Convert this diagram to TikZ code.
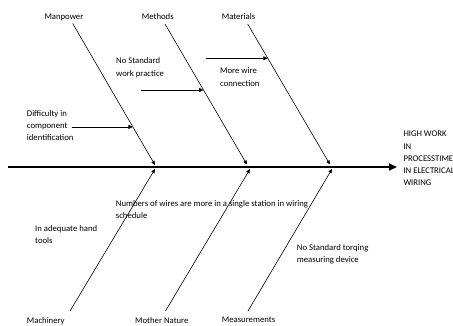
\documentclass[tikz,border=0pt]{standalone}
\usepackage{fontspec}
\setmainfont{Carlito}
\usetikzlibrary{arrows.meta}

\begin{document}
\begin{tikzpicture}[x=1pt,y=-1pt,
        font=\fontsize{8.7}{12.3}\selectfont,
        every node/.style={inner sep=0pt,anchor=base west,align=left},
        spine/.style={line width=1.8pt,-{Triangle[length=8pt,width=7pt]}},
        bone/.style={line width=0.6pt,-{Triangle[length=4pt,width=3.5pt]}},
        cause/.style={line width=0.8pt,-{Triangle[length=4.5pt,width=4pt]}}]

    \useasboundingbox (0,0) rectangle (453,325);

    \coordinate (tail) at (8,167);
    \coordinate (head) at (397,167);
    \draw[spine] (tail) -- (head);

    \node (effect)    at (403.3,185.9) {HIGH WORK\\IN\\PROCESSTIME\\IN ELECTRICAL\\WIRING};

    \node (manpower)  at (44.3,19.4)  {Manpower};
    \node (methods)   at (141.7,19.4) {Methods};
    \node (materials) at (221.7,19.4) {Materials};
    \node (machinery) at (26.7,323.4) {Machinery};
    \node (nature)    at (135,323.4)  {Mother Nature};
    \node (measure)   at (221.7,322)  {Measurements};

    \coordinate (manpowertop)  at (72.7,23.5);
    \coordinate (manpowerend)  at (155,165);
    \coordinate (methodstop)   at (165,24);
    \coordinate (methodsend)   at (247,164.5);
    \coordinate (materialstop) at (247.7,24);
    \coordinate (materialsend) at (330,164.5);
    \coordinate (machinerybot) at (70,311);
    \coordinate (machineryend) at (155,169);
    \coordinate (naturebot)    at (165.5,311);
    \coordinate (natureend)    at (250,169);
    \coordinate (measurebot)   at (248,311);
    \coordinate (measureend)   at (332,169);

    \draw[bone] (manpowertop) -- coordinate[pos=0.731] (manpowerhit) (manpowerend);
    \draw[bone] (methodstop) -- coordinate[pos=0.470] (methodshit) (methodsend);
    \draw[bone] (materialstop) -- coordinate[pos=0.244] (materialshit) (materialsend);
    \draw[bone] (machinerybot) -- (machineryend);
    \draw[bone] (naturebot) -- (natureend);
    \draw[bone] (measurebot) -- (measureend);

    \node (difficulty) at (26.7,140.6) {Difficulty in\\component\\identification};
    \node (practice)   at (116,76) {No Standard\\work practice};
    \node (wire)       at (220,86) {More wire\\connection};
    \node (numbers)    at (115.7,218.3) {Numbers of wires are more in a single station in wiring\\schedule};
    \node (tools)      at (35,243.3) {In adequate hand\\tools};
    \node (torque)     at (296.7,262.7) {No Standard torqing\\measuring device};

    \coordinate (difficultyfrom) at (71.7,0 |- manpowerhit);
    \coordinate (practicefrom)   at (140.7,0 |- methodshit);
    \coordinate (wirefrom)       at (206,0 |- materialshit);

    \draw[cause] (difficultyfrom) -- (manpowerhit);
    \draw[cause] (practicefrom) -- (methodshit);
    \draw[cause] (wirefrom) -- (materialshit);
\end{tikzpicture}
\end{document}
